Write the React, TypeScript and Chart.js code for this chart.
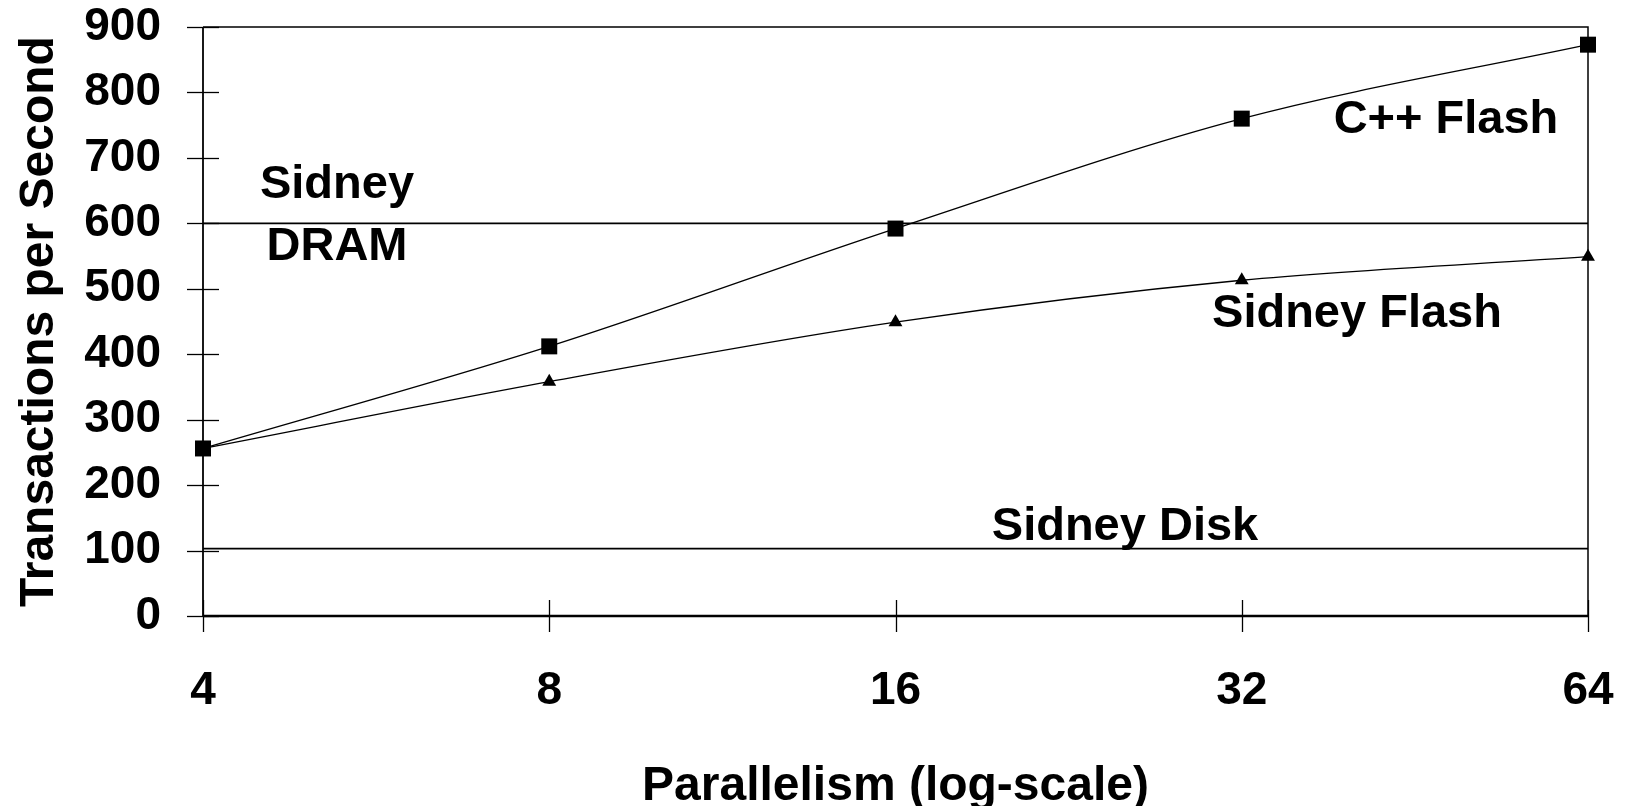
import React, { useEffect, useRef } from "react";
import { Chart, registerables } from "chart.js";

Chart.register(...registerables);

// ---- data ----
const parallelism = [4, 8, 16, 32, 64];
const xTickLabels = ["4", "8", "16", "32", "64"];
const yTickValues = [0, 100, 200, 300, 400, 500, 600, 700, 800, 900];
const cppFlash = [256, 412, 592, 760, 873];
const sidneyFlash = [256, 358, 449, 513, 549];
const sidneyDram = [600, 600];
const sidneyDisk = [103, 103];
const refLineX = [4, 64];

const FONT = '"Liberation Sans", Arial, Helvetica, sans-serif';

const annotations = [
  { text: "Sidney", x: 337, y: 198 },
  { text: "DRAM", x: 337, y: 260 },
  { text: "C++ Flash", x: 1446, y: 133 },
  { text: "Sidney Flash", x: 1357, y: 327 },
  { text: "Sidney Disk", x: 1125, y: 540 },
];

const decorPlugin = {
  id: "decor",
  beforeDatasetsDraw(chart: any) {
    const { ctx, chartArea, scales } = chart;
    const { left, right, top, bottom } = chartArea;
    const x = scales.x;
    const y = scales.y;
    ctx.save();
    ctx.strokeStyle = "#000";
    // y tick marks crossing the axis
    ctx.lineWidth = 1.3;
    yTickValues.forEach((v) => {
      const py = Math.round(y.getPixelForValue(v)) + 0.5;
      ctx.beginPath();
      ctx.moveTo(left - 16, py);
      ctx.lineTo(left + 16, py);
      ctx.stroke();
    });
    // x tick marks crossing the axis
    parallelism.forEach((v) => {
      const px = Math.round(x.getPixelForValue(v)) + 0.5;
      ctx.beginPath();
      ctx.moveTo(px, bottom - 16);
      ctx.lineTo(px, bottom + 16);
      ctx.stroke();
    });
    // plot box: top and right
    ctx.lineWidth = 1.5;
    ctx.beginPath();
    ctx.moveTo(left, top);
    ctx.lineTo(right, top);
    ctx.lineTo(right, bottom);
    ctx.stroke();
    // left axis
    ctx.lineWidth = 1.8;
    ctx.beginPath();
    ctx.moveTo(left, top);
    ctx.lineTo(left, bottom);
    ctx.stroke();
    // bottom axis
    ctx.lineWidth = 2.4;
    ctx.beginPath();
    ctx.moveTo(left, bottom);
    ctx.lineTo(right, bottom);
    ctx.stroke();
    ctx.restore();
  },
  afterDatasetsDraw(chart: any) {
    const { ctx } = chart;
    ctx.save();
    ctx.fillStyle = "#000";
    ctx.font = `bold 47px ${FONT}`;
    ctx.textAlign = "center";
    ctx.textBaseline = "alphabetic";
    annotations.forEach((a) => ctx.fillText(a.text, a.x, a.y));
    ctx.restore();
  },
};

export default function App() {
  const canvasRef = useRef<HTMLCanvasElement | null>(null);

  useEffect(() => {
    if (!canvasRef.current) return;
    const chart = new Chart(canvasRef.current, {
      type: "line",
      data: {
        datasets: [
          {
            label: "C++ Flash",
            data: parallelism.map((p, i) => ({ x: p, y: cppFlash[i] })),
            borderColor: "#000",
            backgroundColor: "#000",
            borderWidth: 1.3,
            tension: 0.33,
            pointStyle: "rect",
            pointRadius: 11.3,
            pointBorderWidth: 0,
            pointBackgroundColor: "#000",
            clip: false as any,
          },
          {
            label: "Sidney Flash",
            data: parallelism.map((p, i) => ({ x: p, y: sidneyFlash[i] })),
            borderColor: "#000",
            backgroundColor: "#000",
            borderWidth: 1.3,
            tension: 0.33,
            pointStyle: "triangle",
            pointRadius: 8,
            pointBorderWidth: 0,
            pointBackgroundColor: "#000",
            clip: false as any,
          },
          {
            label: "Sidney DRAM",
            data: refLineX.map((p, i) => ({ x: p, y: sidneyDram[i] })),
            borderColor: "#000",
            borderWidth: 1.8,
            pointRadius: 0,
            tension: 0,
          },
          {
            label: "Sidney Disk",
            data: refLineX.map((p, i) => ({ x: p, y: sidneyDisk[i] })),
            borderColor: "#000",
            borderWidth: 1.8,
            pointRadius: 0,
            tension: 0,
          },
        ],
      },
      options: {
        animation: false,
        responsive: true,
        maintainAspectRatio: false,
        layout: {
          autoPadding: false,
          padding: { top: 27, right: 39, bottom: 0, left: 0 },
        },
        plugins: {
          legend: { display: false },
          tooltip: { enabled: false },
        },
        events: [],
        scales: {
          x: {
            type: "logarithmic",
            min: 4,
            max: 64,
            afterBuildTicks: (s: any) => {
              s.ticks = parallelism.map((v) => ({ value: v }));
            },
            afterFit: (s: any) => {
              s.height = 190;
              s.paddingLeft = 0;
              s.paddingRight = 0;
            },
            grid: { display: false, drawTicks: false },
            border: { display: false },
            ticks: {
              autoSkip: false,
              maxRotation: 0,
              minRotation: 0,
              padding: 48,
              color: "#000",
              font: { family: FONT, size: 46, weight: "bold" },
              callback: (_v: any, i: number) => xTickLabels[i],
            },
            title: {
              display: true,
              text: "Parallelism (log-scale)",
              color: "#000",
              font: { family: FONT, size: 48, weight: "bold", lineHeight: 1 },
              padding: { top: 0, bottom: -5 },
            },
          },
          y: {
            type: "linear",
            min: 0,
            max: 900,
            afterBuildTicks: (s: any) => {
              s.ticks = yTickValues.map((v) => ({ value: v }));
            },
            afterFit: (s: any) => {
              s.width = 203;
              s.paddingTop = 0;
              s.paddingBottom = 0;
            },
            grid: { display: false, drawTicks: false },
            border: { display: false },
            ticks: {
              padding: 42,
              color: "#000",
              font: { family: FONT, size: 46, weight: "bold", lineHeight: 1 },
              callback: (v: any) => String(v),
            },
            title: {
              display: true,
              text: "Transactions per Second",
              color: "#000",
              font: { family: FONT, size: 48, weight: "bold", lineHeight: 1 },
              padding: { top: 16, bottom: 0 },
            },
          },
        },
      } as any,
      plugins: [decorPlugin],
    });
    return () => chart.destroy();
  }, []);

  return (
    <div
      style={{
        position: "fixed",
        left: 0,
        top: 0,
        width: 1627,
        height: 806,
        background: "#fff",
      }}
    >
      <canvas ref={canvasRef} />
    </div>
  );
}
